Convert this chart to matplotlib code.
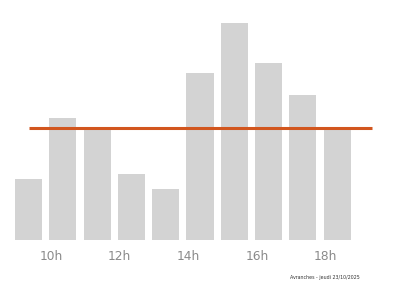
import numpy as np
import matplotlib
matplotlib.use("Agg")
import matplotlib.pyplot as plt

# ── Data ───────────────────────────────────────────────────────────────────
hours  = [9, 10, 11, 12, 13, 14, 15, 16, 17, 18, 19]
values = [61, 122, 112, 66, 51, 167, 217, 177, 145, 112, 0.3]
tick_hours = [10, 12, 14, 16, 18]
footer = "Avranches - jeudi 23/10/2025"

# ── Style ──────────────────────────────────────────────────────────────────
C_BAR  = "#D3D3D3"
C_MEAN = "#D2561E"
C_TICK = "#8A8A8A"

fig = plt.figure(figsize=(4.0, 2.86), dpi=100)
ax = fig.add_axes([0, 46 / 286, 1, 240 / 286])

x = np.arange(len(values))
ax.bar(x, values, width=0.79, color=C_BAR, linewidth=0)

# mean line, from first to last bar
mean = np.mean(values)
ax.plot([x[0], x[-1]], [mean, mean], color=C_MEAN, lw=2.2, solid_capstyle="butt")

ax.set_xlim(-0.831, 10.83)
ax.set_ylim(0, 240)
ax.set_yticks([])
ax.set_xticks([hours.index(h) for h in tick_hours])
ax.set_xticklabels([f"{h}h" for h in tick_hours], ha="right",
                   color=C_TICK, fontsize=8.8)
ax.tick_params(axis="x", length=0, pad=7.5)
for s in ax.spines.values():
    s.set_visible(False)

fig.text(0.9, 0.028, footer, ha="right", va="center", fontsize=3.4, color="#333333")

fig.savefig("out.png", dpi=100)
